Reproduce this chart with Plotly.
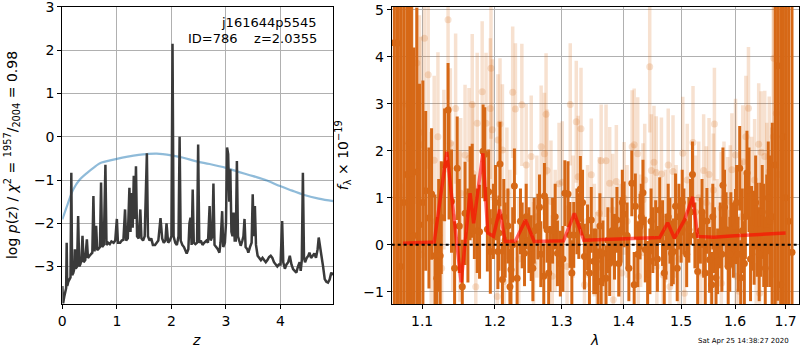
import plotly.graph_objects as go
import math

# ---------------- left panel: log p(z) ----------------
z_prior = [0.00, 0.10, 0.20, 0.32, 0.45, 0.60, 0.69, 0.80, 1.00, 1.20, 1.40, 1.55, 1.73, 2.00, 2.20, 2.46, 2.70, 3.00, 3.20, 3.50, 3.75, 3.99, 4.20, 4.42, 4.70, 4.97]
logp_prior = [-1.91, -1.55, -1.22, -0.99, -0.84, -0.69, -0.61, -0.57, -0.51, -0.46, -0.42, -0.40, -0.39, -0.43, -0.48, -0.57, -0.63, -0.72, -0.80, -0.91, -1.01, -1.14, -1.24, -1.34, -1.43, -1.49]

z_grid = [0.00, 0.015, 0.035, 0.055, 0.07, 0.08, 0.09, 0.11, 0.13, 0.15, 0.165, 0.18, 0.20, 0.22, 0.23, 0.245,
          0.27, 0.29, 0.31, 0.33, 0.35, 0.37, 0.39, 0.42, 0.45, 0.47, 0.50, 0.53, 0.55, 0.57, 0.59, 0.62, 0.64,
          0.67, 0.69, 0.71, 0.73, 0.76, 0.79, 0.81, 0.84, 0.87, 0.90, 0.94, 0.97, 1.00, 1.02, 1.06, 1.09, 1.12,
          1.15, 1.17, 1.20, 1.23, 1.25, 1.27, 1.29, 1.31, 1.33, 1.35, 1.37, 1.40, 1.43, 1.45, 1.48, 1.51, 1.53,
          1.55, 1.57, 1.60, 1.63, 1.66, 1.70, 1.73, 1.76, 1.80, 1.83, 1.86, 1.89, 1.91, 1.94, 1.97, 2.00, 2.02,
          2.04, 2.07, 2.10, 2.13, 2.15, 2.17, 2.20, 2.23, 2.26, 2.28, 2.31, 2.33, 2.35, 2.37, 2.39, 2.41, 2.44,
          2.47, 2.49, 2.51, 2.54, 2.57, 2.60, 2.64, 2.67, 2.70, 2.72, 2.75, 2.77, 2.79, 2.82, 2.85, 2.88, 2.90,
          2.93, 2.95, 2.98, 3.00, 3.02, 3.04, 3.06, 3.08, 3.10, 3.12, 3.14, 3.16, 3.18, 3.20, 3.22, 3.25, 3.27,
          3.30, 3.32, 3.34, 3.36, 3.39, 3.41, 3.44, 3.47, 3.49, 3.51, 3.53, 3.55, 3.58, 3.61, 3.64, 3.67, 3.70,
          3.73, 3.76, 3.79, 3.82, 3.85, 3.88, 3.91, 3.94, 3.97, 4.00, 4.03, 4.05, 4.08, 4.11, 4.14, 4.17, 4.20,
          4.23, 4.26, 4.29, 4.32, 4.35, 4.37, 4.39, 4.41, 4.43, 4.45, 4.48, 4.51, 4.53, 4.56, 4.59, 4.62, 4.65,
          4.68, 4.70, 4.72, 4.75, 4.78, 4.81, 4.84, 4.87, 4.90, 4.93, 4.96]
logp_fit = [-3.45, -3.85, -3.70, -3.55, -3.50, -2.45, -3.45, -3.35, -3.30, -3.25, -0.83, -3.20, -3.15, -3.05, -2.60, -3.05,
            -3.00, -1.83, -3.00, -2.95, -2.85, -2.29, -2.90, -2.85, -2.37, -2.80, -2.75, -2.70, -2.68, -1.37, -2.65, -2.06, -2.62,
            -2.58, -2.55, -1.06, -2.55, -2.50, -0.65, -2.50, -2.45, -2.48, -2.42, -2.45, -2.40, -1.90, -2.45, -2.45, -2.40, -2.38,
            -1.68, -2.40, -2.35, -1.18, -2.20, -1.30, -2.10, -0.90, -1.90, -0.68, -2.30, -2.35, -1.68, -2.35, -2.40, -2.30, -1.45,
            -0.38, -2.30, -2.40, -2.35, -2.50, -2.50, -2.45, -2.40, -1.88, -2.35, -2.45, -2.40, -2.00, -2.45, -2.40, -2.30, 2.15,
            -2.30, -2.45, -2.50, -2.30, 0.00, -2.40, -2.50, -2.55, -2.65, -2.70, -2.60, -2.00, -1.87, -2.50, -1.22, -2.45, -2.48,
            -2.45, -0.18, -2.45, -2.40, -2.50, -2.45, -2.40, -2.45, -1.60, -2.40, -2.30, -1.08, -2.50, -2.55, -2.60, -2.68, -2.45,
            -1.72, -2.55, -2.45, -2.00, -0.25, -0.40, -1.50, -0.75, -2.20, -2.30, -1.75, -2.40, -2.40, -0.56, -2.30, -2.45, -2.52,
            -2.40, -2.30, -1.90, -2.55, -2.60, -2.68, -2.55, -2.45, -1.33, -2.30, -1.60, -2.50, -2.75, -2.80, -2.85, -2.80, -2.85,
            -2.90, -2.85, -2.78, -2.75, -2.80, -2.90, -2.95, -3.00, -2.95, -2.95, -1.95, -2.90, -3.05, -2.95, -2.90, -2.75, -2.95,
            -3.06, -3.10, -3.14, -3.00, -2.90, -3.10, -2.85, -0.83, -2.80, -2.90, -2.80, -2.75, -2.68, -2.80, -2.75, -2.70, -2.80,
            -2.60, -2.33, -2.55, -2.75, -3.00, -3.29, -3.35, -3.37, -3.30, -3.14, -3.20]

z_ticks = [0, 1, 2, 3, 4]
logp_ticks = [-3, -2, -1, 0, 1, 2, 3]

# ---------------- right panel: spectrum ----------------
lam_dark = [1.064, 1.068, 1.072, 1.076, 1.080, 1.083, 1.086, 1.089, 1.093, 1.0965, 1.101, 1.1047, 1.109, 1.1125, 1.117,
            1.1195, 1.122, 1.124, 1.1255, 1.130, 1.1347, 1.136, 1.1394, 1.1436, 1.1472, 1.150, 1.1542, 1.158, 1.162,
            1.165, 1.168, 1.171, 1.175, 1.1783, 1.1833, 1.1857, 1.1894, 1.1912, 1.1936, 1.198, 1.2045, 1.206, 1.2075,
            1.211, 1.215, 1.219, 1.222, 1.2235, 1.2285, 1.2325, 1.2375, 1.2435, 1.246, 1.250, 1.2535, 1.258, 1.2635,
            1.268, 1.2725, 1.2735, 1.2775, 1.282, 1.286, 1.2935, 1.298, 1.305, 1.310, 1.313, 1.319, 1.324, 1.3295,
            1.336, 1.341, 1.347, 1.351, 1.355, 1.358, 1.363, 1.366, 1.371, 1.377, 1.381, 1.385, 1.389, 1.396, 1.401,
            1.406, 1.414, 1.418, 1.420, 1.424, 1.428, 1.433, 1.437, 1.441, 1.445, 1.450, 1.455, 1.462, 1.467, 1.473,
            1.477, 1.483, 1.486, 1.490, 1.496, 1.500, 1.505, 1.514, 1.5205, 1.525, 1.530, 1.535, 1.541, 1.547, 1.552,
            1.556, 1.561, 1.567, 1.572, 1.577, 1.583, 1.587, 1.592, 1.597, 1.601, 1.606, 1.609, 1.614, 1.618, 1.623,
            1.627, 1.632, 1.637, 1.643, 1.650, 1.656, 1.662, 1.668, 1.673, 1.679, 1.684, 1.690, 1.695, 1.700, 1.706, 1.713,
            1.201, 1.213, 1.226, 1.240, 1.256, 1.266, 1.280, 1.290, 1.302, 1.316, 1.327, 1.333, 1.344, 1.361, 1.374,
            1.392, 1.398, 1.409, 1.430, 1.447, 1.458, 1.470, 1.480, 1.493, 1.502, 1.510, 1.517, 1.538, 1.544, 1.558,
            1.564, 1.575, 1.580, 1.590, 1.603, 1.611, 1.620, 1.630, 1.640, 1.647, 1.653, 1.659, 1.665]
flux_dark = [4.30, 4.29, -0.46, 0.90, 1.50, 2.16, 1.52, 0.20, 1.55, 0.43, 0.90, 1.15, 0.57, 1.08, -0.23,
             -0.71, 0.20, -0.23, 0.58, 1.70, 2.87, 1.74, 0.93, -0.50, 1.63, 0.40, -0.89, 0.67, 0.20,
             1.10, 1.15, 0.60, 0.30, 0.28, 1.99, 1.93, 0.33, 1.13, -0.14, 0.50, -0.14, 0.25, 1.72,
             -0.74, 0.10, 0.40, -0.89, -0.53, 1.25, -0.71, 0.50, -0.18, 0.60, 0.10, -0.07, 0.30, 0.39,
             -0.20, -0.67, 1.04, 0.32, -0.30, 0.30, -0.18, -0.40, 1.10, 1.08, 0.21, 0.21, 0.50, 1.19,
             -0.25, 0.16, 0.53, -0.35, -0.35, -0.78, -0.78, -0.18, -0.71, -0.39, 0.30, -0.04, 0.53, 0.32, 0.65,
             0.20, 1.31, -0.85, 0.82, -0.20, 0.39, 1.11, -0.10, -0.62, -0.35, 0.10, 0.25, 0.74, 0.25, -0.04,
             0.60, -0.18, -0.14, 0.82, 0.60, 0.32, 0.50, 0.32, 1.50, 0.20, -0.57, 0.30, 0.00, 0.51, -0.32,
             -0.85, 0.10, -0.35, 0.20, 1.27, 0.32, -0.46, 0.32, 0.10, 0.39, -0.20, 1.63, 0.30, -0.40, 1.53,
             1.17, 0.35, 0.15, 0.32, 0.32, 0.20, 0.30, 0.50, 0.60, 1.70, 3.81, -0.85, 2.30, 1.00, 0.50, -0.16,
             0.90, 0.60, 0.00, 0.20, -0.50, 0.80, -0.60, 0.60, -0.30, -0.60, 0.40, 0.90, -0.60, 0.40, 0.10,
             -0.40, 0.90, -0.50, 0.60, 0.50, -0.30, -0.60, 0.30, -0.50, 0.90, -0.20, 0.70, 0.70, -0.60, 0.60,
             -0.70, -0.20, 0.80, -0.20, 0.90, -0.70, 0.60, -0.30, 0.90, -0.20, 0.70, -0.50, 1.00]
err_dark = [8.0, 8.0, 7.0, 6.5, 6.0, 5.0, 4.5, 4.0, 3.5, 3.0, 2.6, 1.7, 1.5, 1.4, 1.3,
            1.3, 1.2, 1.2, 1.2, 1.2, 1.0, 1.2, 1.1, 1.0, 1.1, 1.0, 1.0, 1.1, 1.0,
            1.0, 1.0, 0.9, 0.9, 1.0, 1.0, 1.0, 0.9, 0.9, 0.9, 0.8, 0.8, 0.8, 0.9,
            0.8, 0.8, 0.8, 0.8, 0.8, 0.8, 0.8, 0.7, 0.7, 0.7, 0.7, 0.7, 0.7, 0.7,
            0.7, 0.7, 0.7, 0.7, 0.7, 0.7, 0.7, 0.7, 0.7, 0.7, 0.7, 0.7, 0.7, 0.7,
            0.7, 0.7, 0.7, 0.7, 0.7, 0.7, 0.7, 0.7, 0.7, 0.7, 0.7, 0.7, 0.7, 0.7, 0.7,
            0.7, 0.7, 0.7, 0.7, 0.7, 0.7, 0.7, 0.7, 0.7, 0.7, 0.7, 0.7, 0.7, 0.7, 0.7,
            0.7, 0.7, 0.7, 0.7, 0.7, 0.7, 0.7, 0.7, 0.7, 0.7, 0.7, 0.7, 0.7, 0.7, 0.7,
            0.7, 0.7, 0.7, 0.7, 0.8, 0.8, 0.8, 0.8, 0.8, 0.8, 0.8, 0.9, 0.9, 0.9, 0.9,
            0.9, 0.9, 1.0, 1.0, 1.0, 1.1, 1.2, 1.4, 2.0, 3.5, 5.0, 7.0, 7.0, 8.0, 8.0, 8.0,
            0.8, 0.8, 0.8, 0.7, 0.7, 0.7, 0.7, 0.7, 0.7, 0.7, 0.7, 0.7, 0.7, 0.7, 0.7,
            0.7, 0.7, 0.7, 0.7, 0.7, 0.7, 0.7, 0.7, 0.7, 0.7, 0.7, 0.7, 0.7, 0.7, 0.7,
            0.7, 0.8, 0.8, 0.8, 0.8, 0.8, 0.9, 0.9, 1.0, 1.0, 1.0, 1.1, 1.2]

lam_light = [1.066, 1.070, 1.072, 1.074, 1.078, 1.083, 1.086, 1.087, 1.093, 1.0965, 1.098, 1.099, 1.103, 1.108, 1.112,
             1.116, 1.121, 1.126, 1.129, 1.1347, 1.1378, 1.141, 1.145, 1.151, 1.152, 1.158, 1.1635, 1.168, 1.169,
             1.173, 1.175, 1.182, 1.1875, 1.1936, 1.1945, 1.1964, 1.2035, 1.2045, 1.2075, 1.211, 1.2135, 1.2175,
             1.222, 1.226, 1.230, 1.235, 1.2395, 1.246, 1.2535, 1.257, 1.262, 1.2685, 1.2735, 1.276, 1.2775, 1.2835,
             1.2855, 1.290, 1.296, 1.301, 1.3085, 1.3135, 1.318, 1.323, 1.326, 1.3305, 1.336, 1.341, 1.347, 1.352,
             1.356, 1.360, 1.363, 1.367, 1.371, 1.377, 1.382, 1.383, 1.388, 1.393, 1.397, 1.401, 1.406, 1.4145,
             1.418, 1.424, 1.425, 1.429, 1.433, 1.436, 1.4446, 1.4475, 1.452, 1.456, 1.457, 1.465, 1.468, 1.472,
             1.477, 1.480, 1.4855, 1.491, 1.496, 1.503, 1.506, 1.511, 1.5215, 1.526, 1.532, 1.536, 1.541, 1.546,
             1.551, 1.555, 1.559, 1.561, 1.566, 1.5735, 1.574, 1.579, 1.586, 1.591, 1.594, 1.601, 1.602, 1.608,
             1.612, 1.615, 1.621, 1.626, 1.632, 1.638, 1.641, 1.646, 1.648, 1.651, 1.658, 1.662, 1.667, 1.672,
             1.675, 1.676, 1.681, 1.686]
flux_light = [1.00, 2.50, 1.24, 0.82, 3.00, -0.82, 3.69, 1.72, 3.87, 2.39, 2.13, -0.21, 4.40, 3.62, 0.50,
              1.80, 2.30, -0.50, 1.60, 4.79, 2.16, 0.60, 2.90, 0.39, 1.10, 1.91, 1.84, 2.99, 1.52,
              -0.89, 2.59, 3.26, 2.59, 2.90, 3.76, 2.45, -1.10, 2.23, 2.57, 2.02, -0.78, 1.10,
              0.20, 3.25, 2.89, -0.30, 2.98, 1.70, 1.88, -0.39, 0.60, 2.09, 1.94, 2.78, 1.58, 0.92,
              -0.67, 0.30, 1.30, 1.33, -0.46, 2.99, 0.60, 2.62, 1.45, 2.47, -0.85, 0.50, 1.49, 0.10,
              -0.50, 0.67, 1.79, -0.20, 1.79, 1.31, 0.74, -1.17, 1.35, 0.10, -0.60, 0.99, 0.50, 2.09,
              2.13, 1.94, -0.67, 0.30, 0.96, 1.38, 3.79, 1.58, 1.76, 1.54, -0.46, 1.51, -0.64, 0.40,
              1.70, -0.89, 1.56, 0.50, -0.30, 1.95, -1.03, 1.38, 2.18, 0.70, 1.00, -0.60, 1.58, 0.90,
              1.50, -0.30, 1.17, 2.57, 0.20, 0.78, -0.82, 1.00, 0.67, 0.92, 1.60, 1.91, -0.67, -0.99,
              0.60, 1.77, 2.30, 2.91, 1.00, 1.38, -0.46, 2.14, -1.03, 1.97, 1.88, 1.10, 1.56, 0.50,
              2.30, 3.97, 2.80, 1.50]
err_light = [7.0, 6.5, 6.0, 5.5, 5.0, 4.0, 3.5, 3.5, 3.0, 2.5, 2.3, 2.2, 2.2, 2.0, 1.9,
             1.8, 1.8, 1.7, 1.7, 1.7, 1.6, 1.6, 1.6, 1.6, 1.6, 1.5, 1.5, 1.5, 1.5,
             1.5, 1.5, 1.5, 1.5, 1.5, 1.5, 1.5, 1.4, 1.4, 1.4, 1.4, 1.4, 1.4,
             1.4, 1.4, 1.4, 1.3, 1.3, 1.3, 1.3, 1.3, 1.3, 1.3, 1.3, 1.3, 1.3, 1.3,
             1.3, 1.3, 1.3, 1.3, 1.3, 1.3, 1.3, 1.3, 1.3, 1.3, 1.3, 1.2, 1.2, 1.2,
             1.2, 1.2, 1.2, 1.2, 1.2, 1.2, 1.2, 1.2, 1.2, 1.2, 1.2, 1.2, 1.2, 1.2,
             1.2, 1.2, 1.2, 1.2, 1.2, 1.2, 1.4, 1.2, 1.2, 1.2, 1.2, 1.2, 1.2, 1.2,
             1.2, 1.2, 1.2, 1.2, 1.2, 1.2, 1.2, 1.2, 1.2, 1.2, 1.2, 1.2, 1.2, 1.2,
             1.2, 1.2, 1.2, 1.2, 1.2, 1.2, 1.2, 1.2, 1.2, 1.2, 1.2, 1.2, 1.2, 1.2,
             1.2, 1.2, 1.3, 1.3, 1.3, 1.3, 1.3, 1.3, 1.3, 1.3, 1.4, 1.5, 1.6, 2.0,
             3.0, 4.0, 5.0, 6.0]

lam_model = [1.075, 1.116, 1.133, 1.142, 1.1526, 1.165, 1.170, 1.183, 1.190, 1.198, 1.207, 1.215, 1.230, 1.245,
             1.258, 1.303, 1.320, 1.335, 1.462, 1.476, 1.488, 1.506, 1.521, 1.530, 1.560, 1.592, 1.657, 1.700]
flux_model = [0.035, 0.06, 1.98, 0.67, -0.80, 1.10, 0.46, 1.95, 0.25, 0.18, 0.75, 0.07, 0.08, 0.53,
              0.07, 0.085, 0.67, 0.10, 0.155, 0.47, 0.14, 0.53, 1.02, 0.18, 0.16, 0.19, 0.23, 0.25]

lam_ticks = [1.1, 1.2, 1.3, 1.4, 1.5, 1.6, 1.7]
flux_ticks = [-1, 0, 1, 2, 3, 4, 5]

DARK = "rgb(214,104,22)"
LIGHT = "rgba(214,104,22,0.2)"
FONT = "DejaVu Sans"

fig = go.Figure()

fig.add_trace(go.Scatter(x=z_prior, y=logp_prior, mode="lines", line=dict(color="rgba(31,119,180,0.5)", width=2.2, shape="spline"),
                         xaxis="x", yaxis="y", showlegend=False))
fig.add_trace(go.Scatter(x=z_grid, y=logp_fit, mode="lines", line=dict(color="#3a3a3a", width=2.5),
                         xaxis="x", yaxis="y", showlegend=False))

fig.add_trace(go.Scatter(x=lam_light, y=flux_light, mode="markers",
                         marker=dict(size=7, color=LIGHT, line=dict(width=0)),
                         error_y=dict(type="data", array=err_light, visible=True, thickness=3.5, width=0, color=LIGHT),
                         xaxis="x2", yaxis="y2", showlegend=False))
fig.add_trace(go.Scatter(x=lam_dark, y=flux_dark, mode="markers",
                         marker=dict(size=7, color=DARK, line=dict(width=0)),
                         error_y=dict(type="data", array=err_dark, visible=True, thickness=3, width=0, color=DARK),
                         xaxis="x2", yaxis="y2", showlegend=False))
fig.add_trace(go.Scatter(x=lam_model, y=flux_model, mode="lines", line=dict(color="rgba(255,0,0,0.6)", width=3.5),
                         xaxis="x2", yaxis="y2", showlegend=False))
fig.add_trace(go.Scatter(x=[1.0606, 1.7275], y=[0, 0], mode="lines", line=dict(color="black", width=2, dash="dot"),
                         xaxis="x2", yaxis="y2", showlegend=False))

axis_common = dict(showline=True, mirror=True, linecolor="black", linewidth=1, automargin=False,
                   ticks="outside", ticklen=4, tickcolor="black", tickwidth=1, ticklabeloverflow="allow",
                   showgrid=True, gridcolor="#b0b0b0", gridwidth=1, zeroline=False,
                   tickfont=dict(family=FONT, size=14, color="black"))

fig.update_layout(
    width=800, height=350, margin=dict(l=0, r=0, t=0, b=0, pad=0),
    paper_bgcolor="white", plot_bgcolor="white",
    xaxis=dict(domain=[0.0779, 0.4166], range=[0, 4.967], tickvals=z_ticks, anchor="y", **axis_common),
    yaxis=dict(domain=[0.1314, 0.9809], range=[-3.866, 3.006], tickvals=logp_ticks, anchor="x", **axis_common),
    xaxis2=dict(domain=[0.4896, 0.9988], type="log", range=[math.log10(1.0606), math.log10(1.7275)],
                tickvals=lam_ticks, ticktext=[f"{v:.1f}" for v in lam_ticks], anchor="y2", layer="above traces", **axis_common),
    yaxis2=dict(domain=[0.1314, 0.9809], range=[-1.26, 5.07], tickvals=flux_ticks, anchor="x2", layer="above traces", **axis_common),
    annotations=[
        dict(text="j161644p5545", x=0.399, y=0.937, xref="paper", yref="paper", xanchor="right", yanchor="middle",
             showarrow=False, font=dict(family=FONT, size=13, color="black")),
        dict(text="ID=786\u00a0\u00a0\u00a0\u00a0z=2.0355", x=0.399, y=0.891, xref="paper", yref="paper", xanchor="right",
             yanchor="middle", showarrow=False, font=dict(family=FONT, size=13, color="black")),
        dict(text="log <i>p</i>(<i>z</i>) / <i>χ</i><sup>2</sup> = <sup>1957</sup>/<sub>2004</sub> = 0.98",
             x=0.015, y=0.557, xref="paper", yref="paper", xanchor="center", yanchor="middle", textangle=-90,
             showarrow=False, font=dict(family=FONT, size=14, color="black")),
        dict(text="<i>f</i><sub>λ</sub> × 10<sup>−19</sup>", x=0.429, y=0.557, xref="paper", yref="paper",
             xanchor="center", yanchor="middle", textangle=-90, showarrow=False, font=dict(family=FONT, size=14, color="black")),
        dict(text="<i>z</i>", x=0.245, y=0.028, xref="paper", yref="paper", xanchor="center", yanchor="middle",
             showarrow=False, font=dict(family=FONT, size=14, color="black")),
        dict(text="<i>λ</i>", x=0.7425, y=0.028, xref="paper", yref="paper", xanchor="center", yanchor="middle",
             showarrow=False, font=dict(family=FONT, size=14, color="black")),
        dict(text="Sat Apr 25 14:38:27 2020", x=0.929, y=0.027, xref="paper", yref="paper", xanchor="center",
             yanchor="middle", showarrow=False, font=dict(family=FONT, size=7, color="black")),
    ],
)

fig.write_html("out.html")
